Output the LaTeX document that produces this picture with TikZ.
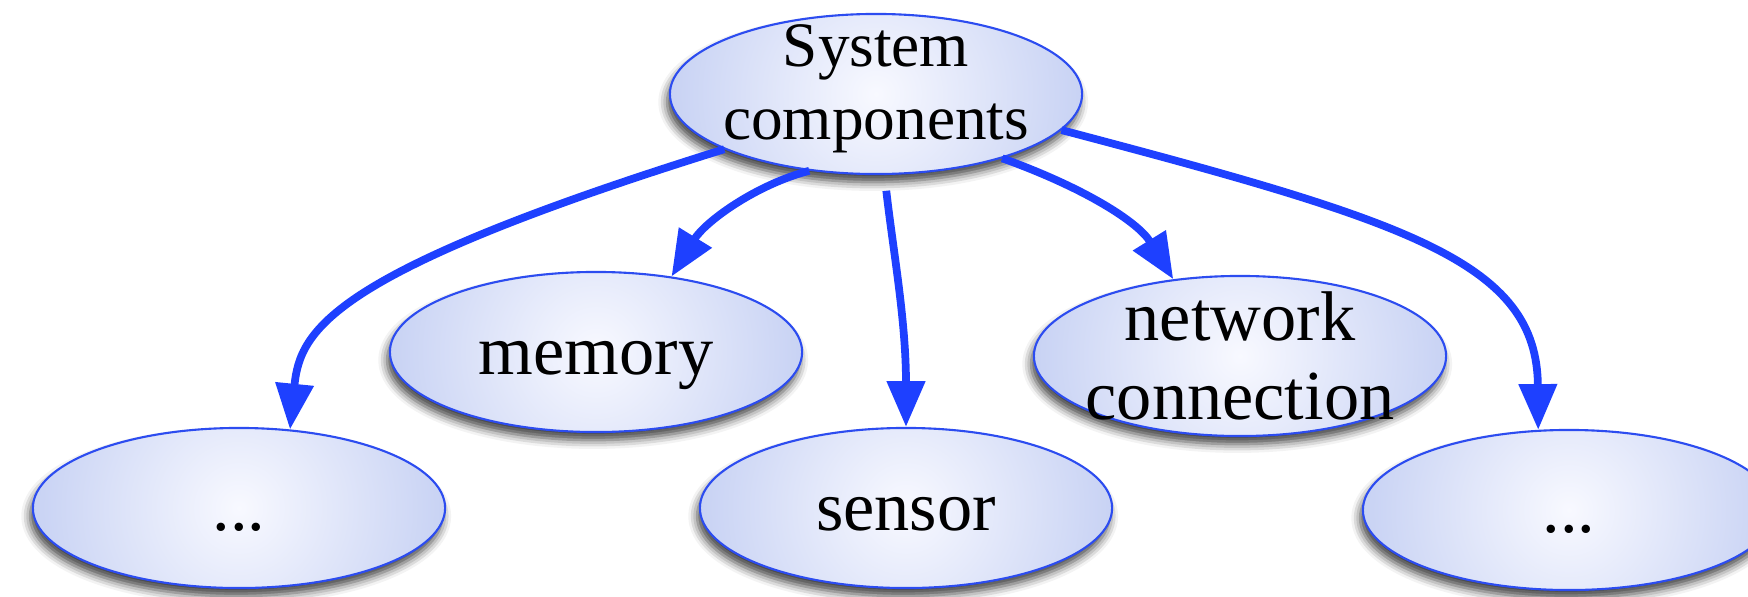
\documentclass[tikz,border=0pt]{standalone}
\usepackage{fontspec}
\setmainfont{Liberation Serif}
\usetikzlibrary{shapes,arrows.meta,shadows.blur}

\definecolor{edgeblue}{RGB}{44,76,240}
\definecolor{arrowblue}{RGB}{30,64,255}
\definecolor{blobin}{RGB}{248,249,255}
\definecolor{blobout}{RGB}{150,170,232}
\newcommand\tallstrut{\rule[-5pt]{0pt}{23pt}}

\begin{document}
\begin{tikzpicture}[x=0.01cm,y=-0.01cm,
      compnode/.style={ellipse,draw=edgeblue,line width=0.6pt,inner sep=0pt,
        minimum width=4.12cm,minimum height=1.6cm,
        path picture={\shade[inner color=blobin,outer color=blobout]
          (path picture bounding box.center) circle (4.2cm);},
        blur shadow={shadow xshift=-0.8pt,shadow yshift=-2.3pt,
          shadow blur radius=2.5pt,shadow opacity=75}},
      bigtext/.style={font=\fontsize{20}{22.7}\selectfont,align=center,inner sep=0pt},
      toptext/.style={font=\fontsize{18}{20.7}\selectfont,align=center,inner sep=0pt},
      link/.style={draw=arrowblue,line width=2.2pt,-{Triangle[length=13pt,width=10.5pt]}}
    ]
    \useasboundingbox (0,0) rectangle (1748,597);
    \clip (0,0) rectangle (1748,597);

    % the root
    \node[compnode] (sys) at (876,94)
      [label={[toptext,yshift=1.5pt]center:System\\components}] {};

    % the components
    \node[compnode] (mem) at (596,352) [label={[bigtext]center:\tallstrut memory}] {};
    \node[compnode] (net) at (1240,356) [label={[bigtext]center:network\\connection}] {};
    \node[compnode] (dl) at (239,508) [label={[bigtext]center:\tallstrut ...}] {};
    \node[compnode] (sen) at (906,508) [label={[bigtext]center:\tallstrut sensor}] {};
    \node[compnode] (dr) at (1569,510) [label={[bigtext]center:\tallstrut ...}] {};

    % the links
    \draw[link] (sys.200) .. controls (330,272) and (300,330) .. (dl.57);
    \draw[link] (sys.229) .. controls (755,185) and (705,222) .. (mem.45);
    \draw[link,shorten <=4.5pt] (sys.-84) .. controls (893,250) and (906,320) .. (sen.north);
    \draw[link] (sys.-27) .. controls (1085,188) and (1138,222) .. (net.131);
    \draw[link] (sys.-11) .. controls (1410,222) and (1537,262) .. (dr.111);
\end{tikzpicture}
\end{document}
